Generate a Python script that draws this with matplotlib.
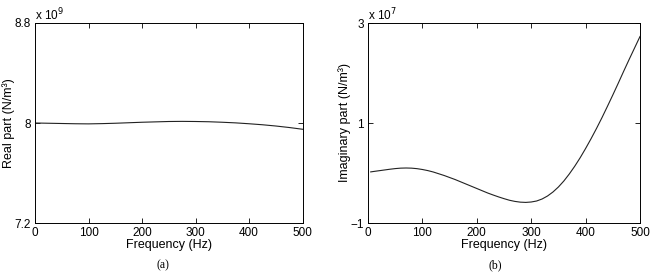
import numpy as np
import matplotlib
matplotlib.use("Agg")
import matplotlib.pyplot as plt

# -------------------------------
# Data
freq_real = [0, 25, 50, 75, 100, 125, 150, 175, 200, 225, 250, 275,
             300, 325, 350, 375, 400, 425, 450, 475, 500]
real_part = [8.000, 7.998, 7.996, 7.994, 7.993, 7.995, 7.998, 8.002, 8.006, 8.009, 8.012, 8.013,
             8.012, 8.010, 8.006, 8.001, 7.994, 7.986, 7.976, 7.964, 7.950]   # x 1e9

freq_imag = [5, 10, 20, 30, 40, 50, 60, 70, 80, 90, 100, 110, 120, 130, 140, 150, 160, 170, 180, 190,
             200, 210, 220, 230, 240, 250, 260, 270, 280, 290, 300, 310, 320, 330, 340, 350, 360,
             370, 380, 390, 400, 410, 420, 430, 440, 450, 460, 470, 480, 490, 500]
imag_part = [0.022, 0.03, 0.045, 0.06, 0.075, 0.088, 0.097, 0.100, 0.097, 0.087, 0.070, 0.048,
             0.020, -0.015, -0.050, -0.090, -0.130, -0.175, -0.220, -0.265, -0.310, -0.355,
             -0.400, -0.440, -0.478, -0.513, -0.545, -0.568, -0.583, -0.588, -0.580, -0.560,
             -0.520, -0.460, -0.380, -0.280, -0.160, -0.020, 0.135, 0.305, 0.490, 0.685, 0.890,
             1.105, 1.330, 1.560, 1.795, 2.035, 2.270, 2.500, 2.730]     # x 1e7

x_ticks = [0, 100, 200, 300, 400, 500]
real_ticks = [7.2, 8, 8.8]
imag_ticks = [-1, 1, 3]

# -------------------------------
plt.rcParams['font.family'] = ['Liberation Sans', 'DejaVu Sans']
plt.rcParams['font.size'] = 8.5
plt.rcParams['axes.unicode_minus'] = True

fig = plt.figure(figsize=(6.55, 2.73), dpi=100)
ax1 = fig.add_axes([35 / 655, 50 / 273, 267.5 / 655, 200 / 273])
ax2 = fig.add_axes([368 / 655, 50 / 273, 272 / 655, 200 / 273])


def style(ax):
    ax.tick_params(direction='in', top=True, right=True, length=3.5, width=0.6, pad=3, labelsize=8.5)
    for s in ax.spines.values():
        s.set_linewidth(0.7)
    ax.set_xlim(0, 500)
    ax.set_xticks(x_ticks)
    ax.set_xlabel("Frequency (Hz)", labelpad=0, fontsize=9)


ax1.plot(freq_real, real_part, color='#222222', lw=0.8)
style(ax1)
ax1.set_ylim(7.2, 8.8)
ax1.set_yticks(real_ticks)
ax1.set_yticklabels(['7.2', '8', '8.8'])
ax1.set_ylabel("Real part (N/m³)", fontsize=9)
ax1.yaxis.set_label_coords(-0.074, 0.5)
ax1.text(0.0, 1.0, r"x 10$^9$", transform=ax1.transAxes, ha='left', va='bottom', fontsize=8.5)
fig.text(163 / 655, 8 / 273, "(a)", family='Liberation Serif', fontsize=8.5, ha='center', va='center')

ax2.plot(freq_imag, imag_part, color='#222222', lw=0.8)
style(ax2)
ax2.set_ylim(-1, 3)
ax2.set_yticks(imag_ticks)
ax2.set_ylabel("Imaginary part (N/m³)", fontsize=9)
ax2.yaxis.set_label_coords(-0.062, 0.5)
ax2.text(0.0, 1.0, r"x 10$^7$", transform=ax2.transAxes, ha='left', va='bottom', fontsize=8.5)
fig.text(495 / 655, 8 / 273, "(b)", family='Liberation Serif', fontsize=8.5, ha='center', va='center')

fig.savefig("out.png", dpi=100)
